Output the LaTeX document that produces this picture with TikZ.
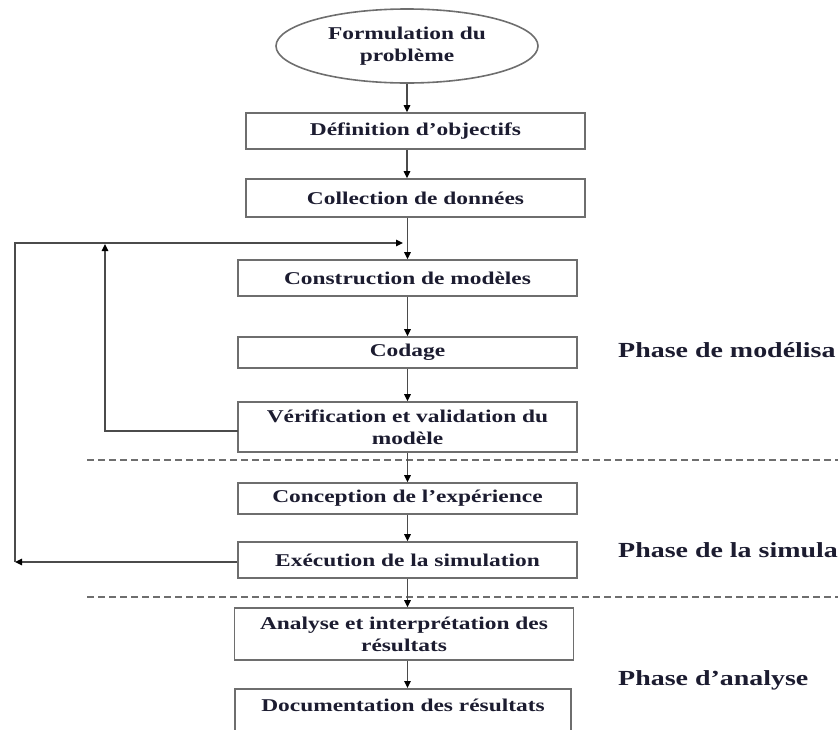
\documentclass[tikz,border=0pt]{standalone}
\usepackage{fontspec}
\setmainfont{Liberation Serif}
\newfontfamily\wideserif[FakeStretch=1.3]{Liberation Serif}
\usetikzlibrary{shapes.geometric,arrows.meta}
\definecolor{edgegray}{RGB}{110,110,110}
\definecolor{linegray}{RGB}{75,75,75}
\definecolor{inkblue}{RGB}{28,28,48}
\begin{document}
\begin{tikzpicture}[x=1pt,y=-1pt,
  stepbox/.style={draw=edgegray, line width=1.6pt, fill=white, inner sep=0pt,
    align=center, text=inkblue, minimum width=339pt,
    font=\wideserif\bfseries\fontsize{18}{22}\selectfont},
  startshape/.style={stepbox, ellipse, minimum width=262pt, minimum height=74pt},
  conn/.style={draw=linegray, line width=1.4pt},
  arr/.style={conn, -{Triangle[length=7pt,width=6.5pt,color=black]}},
  phase/.style={text=inkblue, inner sep=0pt, anchor=base west,
    font=\wideserif\bfseries\fontsize{21.5}{26}\selectfont},
  sepline/.style={draw=edgegray, line width=1.3pt, dash pattern=on 7pt off 4pt}]
\useasboundingbox (0,0) rectangle (838,729);
\clip (0,0) rectangle (838,729);

% separators
\coordinate (s1a) at (87,460);
\coordinate (s1b) at (838,460);
\coordinate (s2a) at (87,597);
\coordinate (s2b) at (838,597);
\draw[sepline] (s1a) -- (s1b);
\draw[sepline] (s2a) -- (s2b);

% nodes
\node[startshape] (form) at (407,46) {Formulation du\\problème};
\node[stepbox, minimum height=36pt] (def) at (415.5,131) {Définition d’objectifs};
\node[stepbox, minimum height=38pt] (col) at (415.5,198) {Collection de données};
\node[stepbox, minimum height=36pt] (cons) at (407.5,278) {Construction de modèles};
\node[stepbox, minimum height=31pt] (cod) at (407.5,352.5) {Codage};
\node[stepbox, minimum height=50pt] (ver) at (407.5,427) {Vérification et validation du\\modèle};
\node[stepbox, minimum height=31pt] (conc) at (407.5,498.5) {Conception de l’expérience};
\node[stepbox, minimum height=36pt] (exe) at (407.5,560) {Exécution de la simulation};
\node[stepbox, minimum height=52pt] (ana) at (404,634) {Analyse et interprétation des\\résultats};
\node[stepbox, minimum width=336pt, anchor=north, text height=23pt, text depth=36pt] (doc) at (403,688) {Documentation des résultats};

% phase labels
\node[phase] (p1) at (618,357) {Phase de modélisa};
\node[phase] (p2) at (618,557) {Phase de la simula};
\node[phase] (p3) at (618,685) {Phase d’analyse};

% main flow
\draw[arr] (form.south) -- (form.south |- def.north);
\draw[arr] (form.south |- def.south) -- (form.south |- col.north);
\draw[arr] (cons.north |- col.south) -- (cons.north);
\draw[arr] (cons.south) -- (cod.north);
\draw[arr] (cod.south) -- (ver.north);
\draw[arr] (ver.south) -- (conc.north);
\draw[arr] (conc.south) -- (exe.north);
\draw[arr] (exe.south) -- (exe.south |- ana.north);
\draw[arr] (exe.south |- ana.south) -- (exe.south |- doc.north);

% feedback loops
\coordinate (join) at (403,243);
\coordinate (outer) at (15,562);
\coordinate (verout) at (238,431);
\coordinate (inner) at (105,431);
\coordinate (innertop) at (105,244);
\draw[arr] (exe.west |- outer) -- (outer);
\draw[arr] (outer) |- (join);
\draw[arr] (verout) -- (inner) -- (innertop);
\end{tikzpicture}
\end{document}
